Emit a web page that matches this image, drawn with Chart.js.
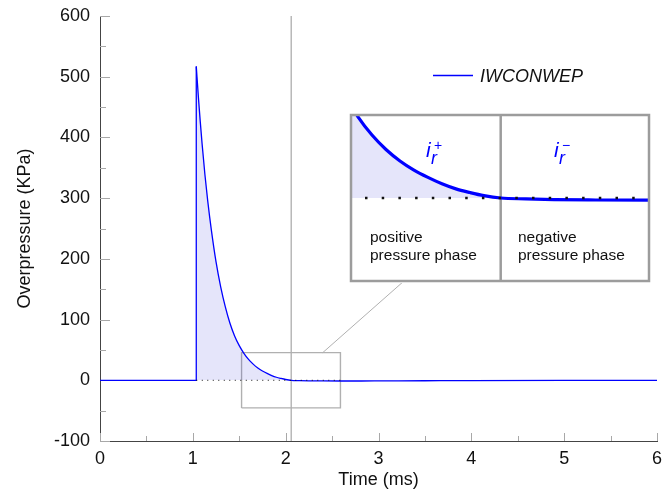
<!DOCTYPE html>
<html>
<head>
<meta charset="utf-8">
<script src="https://cdn.jsdelivr.net/npm/chart.js@4/dist/chart.umd.min.js"></script>
<style>
  html, body { margin: 0; padding: 0; background: #fff; }
  #wrap { position: relative; width: 665px; height: 502px; }
  #main { position: absolute; left: 0; top: 0; }
  #inset { position: absolute; left: 349px; top: 113px; }
</style>
</head>
<body>
<div id="wrap">
  <canvas id="main" width="665" height="502"></canvas>
  <canvas id="inset" width="302" height="170"></canvas>
</div>
<script>
// reflected overpressure history (IWCONWEP), time in ms, pressure in kPa
const preTimes = [0, 1.037, 1.037]
const preValues = [0, 0, 517]

const decayTimes = [1.037, 1.06, 1.08, 1.10, 1.13, 1.16, 1.20, 1.25, 1.30, 1.35, 1.40, 1.45, 1.50,
  1.55, 1.60, 1.65, 1.70, 1.75, 1.80, 1.85, 1.90, 1.95, 2.00, 2.06, 2.15, 2.25, 2.40, 2.60,
  2.80, 3.00, 3.50, 4.00, 5.00, 6.00]
const decayValues = [517, 466, 426, 389, 339, 296, 247, 195, 154, 121, 94, 73, 57,
  44.5, 34.5, 26.6, 20.3, 15.3, 11.3, 7.8, 5.0, 3.0, 1.3, 0, -0.5, -0.9, -1.1, -1.2,
  -1.2, -1.1, -0.8, -0.5, -0.2, -0.1]

const zeroLineTimes = [1.037, 2.59]
const phaseSplitTime = 2.06

// zoom window shown in the inset
const zoomTimes = [1.525, 2.59]
const zoomValues = [-45.5, 45.5]
const connectorTimes = [2.399, 3.275]
const connectorValues = [45.5, 163.6]

const blue = '#0000ff'
const shade = 'rgba(0,0,206,0.102)'

Chart.defaults.font.family = "'Liberation Sans', Arial, sans-serif"
Chart.defaults.font.size = 18
Chart.defaults.color = '#111'

const pts = (xs, ys) => xs.map((x, i) => ({ x: x, y: ys[i] }))

const boxPts = [
  { x: zoomTimes[0], y: zoomValues[0] }, { x: zoomTimes[1], y: zoomValues[0] },
  { x: zoomTimes[1], y: zoomValues[1] }, { x: zoomTimes[0], y: zoomValues[1] },
  { x: zoomTimes[0], y: zoomValues[0] }
]

// no extra room for overflowing tick labels, layout padding decides
const noLabelPadding = s => {
  s.paddingTop = 0
  s.paddingBottom = 0
  s.paddingLeft = 0
  s.paddingRight = 0
}

const insideTicks = {
  id: 'insideTicks',
  beforeDatasetsDraw(chart) {
    const ctx = chart.ctx, xs = chart.scales.x, ys = chart.scales.y
    const area = chart.chartArea
    ctx.save()
    ctx.strokeStyle = '#a8a8a8'
    ctx.lineWidth = 1
    ctx.beginPath()
    xs.ticks.forEach(t => {
      const px = Math.round(xs.getPixelForValue(t.value)) + 0.5
      const len = Number.isInteger(t.value) ? 8 : 5
      ctx.moveTo(px, area.bottom)
      ctx.lineTo(px, area.bottom - len)
    })
    ys.ticks.forEach(t => {
      const py = Math.round(ys.getPixelForValue(t.value)) + 0.5
      const len = t.value % 100 === 0 ? 10 : 6
      ctx.moveTo(area.left, py)
      ctx.lineTo(area.left + len, py)
    })
    ctx.stroke()
    ctx.restore()
  }
}

const lineLegend = {
  id: 'lineLegend',
  afterDraw(chart) {
    const ctx = chart.ctx
    ctx.save()
    ctx.strokeStyle = blue
    ctx.lineWidth = 1.3
    ctx.beginPath()
    ctx.moveTo(433, 75.5)
    ctx.lineTo(473, 75.5)
    ctx.stroke()
    ctx.fillStyle = '#111'
    ctx.font = "italic 18px 'Liberation Sans', Arial, sans-serif"
    ctx.textBaseline = 'alphabetic'
    ctx.fillText('IWCONWEP', 480, 82)
    ctx.restore()
  }
}

new Chart(document.getElementById('main'), {
  type: 'line',
  data: {
    datasets: [
      { data: pts(preTimes, preValues), borderColor: blue, borderWidth: 1.3, pointRadius: 0, tension: 0, order: 1 },
      {
        data: pts(decayTimes, decayValues), borderColor: blue, borderWidth: 1.3, pointRadius: 0,
        cubicInterpolationMode: 'monotone', order: 1,
        fill: { target: 'origin', above: shade, below: 'rgba(0,0,0,0)' }
      },
      { data: pts(zeroLineTimes, [0, 0]), borderColor: '#111', borderWidth: 1, borderDash: [1, 4.5], pointRadius: 0, order: 0 },
      { data: pts([phaseSplitTime, phaseSplitTime], [-100, 600]), borderColor: '#b8b8b8', borderWidth: 1.5, pointRadius: 0, order: 3 },
      { data: boxPts, borderColor: '#b0b0b0', borderWidth: 1.4, pointRadius: 0, order: 2 },
      { data: pts(connectorTimes, connectorValues), borderColor: '#b0b0b0', borderWidth: 1, pointRadius: 0, order: 2 }
    ]
  },
  options: {
    responsive: false,
    animation: false,
    events: [],
    layout: { padding: { top: 16, right: 8, bottom: 0, left: 0 } },
    plugins: { legend: { display: false }, tooltip: { enabled: false } },
    scales: {
      x: {
        type: 'linear', min: 0, max: 6,
        grid: { display: false, drawTicks: false },
        border: { display: true, color: '#444', width: 1 },
        ticks: {
          stepSize: 0.5, autoSkip: false, maxRotation: 0, padding: 7,
          callback: v => Number.isInteger(v) ? String(v) : ''
        },
        title: { display: true, text: 'Time (ms)', padding: { top: 4, bottom: 11 } },
        afterFit: s => { s.height = 61; noLabelPadding(s) }
      },
      y: {
        min: -100, max: 600,
        grid: { display: false, drawTicks: false },
        border: { display: true, color: '#444', width: 1 },
        ticks: {
          stepSize: 50, autoSkip: false, padding: 10,
          callback: v => v % 100 === 0 ? String(v) : ''
        },
        title: { display: true, text: 'Overpressure (KPa)', padding: { top: 14, bottom: 4 } },
        afterFit: s => { s.width = 100; noLabelPadding(s) }
      }
    }
  },
  plugins: [insideTicks, lineLegend]
})

// inset: zoom on the end of the positive phase
const insetFrame = {
  id: 'insetFrame',
  beforeDraw(chart) {
    const ctx = chart.ctx
    ctx.save()
    ctx.fillStyle = '#fff'
    ctx.fillRect(0, 0, chart.width, chart.height)
    ctx.restore()
  },
  afterDraw(chart) {
    const ctx = chart.ctx, a = chart.chartArea
    ctx.save()
    ctx.strokeStyle = '#9c9c9c'
    ctx.lineWidth = 2.5
    ctx.strokeRect(a.left, a.top, a.right - a.left, a.bottom - a.top)

    ctx.fillStyle = '#111'
    ctx.font = "15.5px 'Liberation Sans', Arial, sans-serif"
    ctx.fillText('positive', 21, 129)
    ctx.fillText('pressure phase', 21, 147)
    ctx.fillText('negative', 169, 129)
    ctx.fillText('pressure phase', 169, 147)

    ctx.fillStyle = blue
    const sym = (x, sign) => {
      ctx.font = "italic 21px 'Liberation Sans', Arial, sans-serif"
      ctx.fillText('i', x, 44)
      ctx.font = "italic 18px 'Liberation Sans', Arial, sans-serif"
      ctx.fillText('r', x + 5, 51)
      ctx.font = "14px 'Liberation Sans', Arial, sans-serif"
      ctx.fillText(sign, x + 8, 37)
    }
    sym(77, '+')
    sym(205, '\u2212')
    ctx.restore()
  }
}

new Chart(document.getElementById('inset'), {
  type: 'line',
  data: {
    datasets: [
      {
        data: pts(decayTimes, decayValues), borderColor: blue, borderWidth: 3.2, pointRadius: 0,
        cubicInterpolationMode: 'monotone', order: 1,
        fill: { target: 'origin', above: shade, below: 'rgba(0,0,0,0)' }
      },
      { data: pts(zoomTimes, [0, 0]), borderColor: '#111', borderWidth: 2.5, borderDash: [2.5, 14.2], borderDashOffset: 2.7, pointRadius: 0, order: 0 },
      { data: pts([phaseSplitTime, phaseSplitTime], zoomValues), borderColor: '#9c9c9c', borderWidth: 2.5, pointRadius: 0, order: 2 }
    ]
  },
  options: {
    responsive: false,
    animation: false,
    events: [],
    layout: { padding: 2 },
    plugins: { legend: { display: false }, tooltip: { enabled: false } },
    scales: {
      x: { type: 'linear', min: zoomTimes[0], max: zoomTimes[1], display: false },
      y: { min: zoomValues[0], max: zoomValues[1], display: false }
    }
  },
  plugins: [insetFrame]
})
</script>
</body>
</html>
